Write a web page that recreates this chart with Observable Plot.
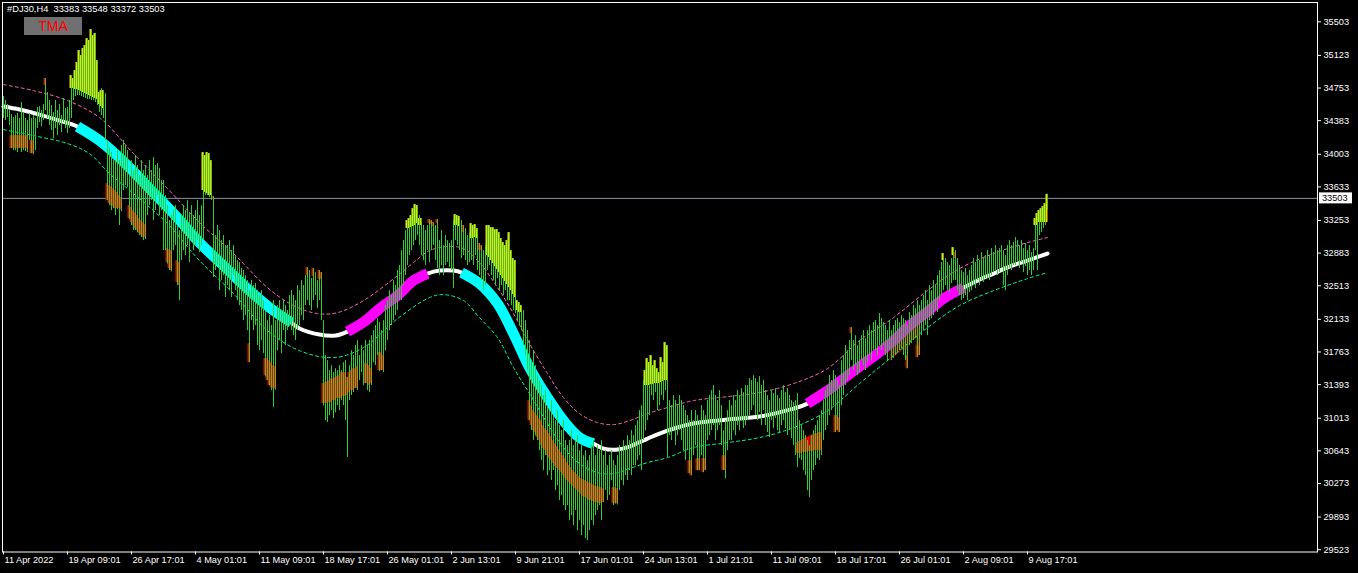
<!DOCTYPE html>
<html><head><meta charset="utf-8">
<script src="https://cdn.jsdelivr.net/npm/d3@7"></script>
<script src="https://cdn.jsdelivr.net/npm/@observablehq/plot@0.6"></script>
<style>
html,body{margin:0;padding:0;background:#000;}
#wrap{position:relative;width:1358px;height:573px;overflow:hidden;font-family:"Liberation Sans",Arial,sans-serif;}
#title{position:absolute;left:7px;top:4px;color:#fff;font-size:9.3px;line-height:11px;white-space:pre;}
#tma{position:absolute;left:24px;top:17px;width:58px;height:18px;background:#707070;color:#ff0000;font-size:14px;line-height:18px;text-align:center;}
</style></head><body>
<div id="wrap"><div id="chart"></div><div id="title">#DJ30,H4  33383 33548 33372 33503</div><div id="tma">TMA</div></div>
<script>
// ---- tick labels ----
const xTickIdx = [0,32,64,96,128,160,192,224,256,288,320,352,384,416,448,480,512];
const xTickLabels = ["11 Apr 2022","19 Apr 09:01","26 Apr 17:01","4 May 01:01","11 May 09:01","18 May 17:01","26 May 01:01","2 Jun 13:01","9 Jun 21:01","17 Jun 01:01","24 Jun 13:01","1 Jul 21:01","11 Jul 09:01","18 Jul 17:01","26 Jul 01:01","2 Aug 09:01","9 Aug 17:01"];
const yTickLabels = [35503,35123,34753,34383,34003,33633,33253,32883,32513,32133,31763,31393,31013,30643,30273,29893,29523];
const bidPrice = 33503;

// ---- H4 bars (high / low) ----
const barHigh = [
34656,34611,34566,34498,34452,34418,34441,34464,
34407,34588,34475,34407,34384,34464,34407,34441,
34407,34532,34543,34498,34566,34860,34702,34611,
34554,34475,34611,34498,34566,34441,34634,34520,
34532,34611,34894,34860,34951,35042,35178,35121,
35200,35234,35313,35291,35415,35347,35370,35064,
34702,34747,34724,34690,34158,34078,34022,33931,
33931,34044,33931,34101,34158,34101,34044,33761,
33931,33818,33988,33875,33761,33931,33818,33875,
33761,33931,33818,33965,33875,33897,33841,33705,
33705,33535,33421,33251,33308,33365,33421,33195,
33138,33308,33421,33365,33478,33342,33421,33308,
33365,33478,33308,33421,34022,33988,34022,34010,
33931,33523,33081,33195,33138,33025,33081,32968,
32968,33025,32911,32968,32855,32798,32776,32708,
32685,32628,32572,32458,32572,32515,32538,32458,
32402,32458,32345,32232,32118,32175,32062,32345,
32118,32288,32345,32232,32345,32288,32232,32402,
32458,32402,32345,32515,32458,32572,32515,32628,
32719,32685,32594,32708,32662,32572,32685,32662,
32118,31722,31665,31552,31608,31529,31574,31552,
31608,31552,31642,31665,31473,31608,31778,31722,
31835,31892,31722,31835,31778,31892,31835,31892,
31948,32005,32062,32141,32096,32005,32118,32288,
32345,32458,32402,32572,32515,32685,32742,32911,
33025,33138,33251,33274,33308,33387,33433,33421,
33308,33274,33195,33138,33195,33263,33251,33229,
33195,33263,33025,33138,32968,33081,33025,32991,
33025,33251,33319,33308,33297,33251,33195,33161,
33081,33115,33217,33195,33206,33161,32991,32968,
32911,32968,33195,33195,33172,33172,33149,33149,
33115,33047,33002,32968,33025,33115,32911,32821,
32798,32345,32322,32288,
32232,32118,32005,31892,31665,31778,31608,31495,
31439,31382,31269,31325,31155,31099,31212,31042,
30985,31099,30929,30872,30985,30759,30702,30759,
30872,30702,30759,30815,30645,30702,30589,30645,
30532,30589,30702,30759,30589,30702,30645,30759,
30589,30645,30475,30589,30645,30532,30475,30589,
30702,30645,30759,30702,30815,30759,30872,30815,
30929,30985,31099,31155,31439,31552,31688,31642,
31722,31608,31665,31574,31529,31699,31642,31869,
31835,31212,31155,31269,31212,31155,31269,31212,
31155,31099,31042,30985,31099,30985,31099,31042,
30985,31155,31099,31042,31212,31269,31325,31382,
31269,31212,31325,31155,30872,30985,31099,31212,
31155,31269,31212,31325,31269,31348,31303,31382,
31382,31461,31439,31495,31461,31416,31484,31382,
31439,31325,31269,31212,31325,31291,31348,31269,
31235,31325,31382,31303,31348,31269,31212,31189,
31212,31291,30985,30929,30872,30815,30759,30702,
30815,30872,30929,30985,31042,31099,31212,31325,
31382,31495,31439,31552,31495,31439,31382,31665,
31722,31835,31778,31892,32039,31892,31948,31835,
31892,31948,32005,31914,32005,32062,32005,32096,
32118,32062,32198,32141,32096,32062,32005,32118,
32005,32062,32118,32141,32096,32175,32141,32118,
32062,32209,32175,32288,32254,32345,32288,32345,
32402,32458,32345,32515,32458,32572,32515,32628,
32685,32776,32878,32821,32776,32742,32821,32945,
32911,32821,32742,32685,32662,32708,32628,32685,
32742,32821,32776,32855,32798,32889,32821,32855,
32911,32855,32934,32889,32968,32911,32934,32968,
32911,32855,32968,33025,32968,33002,33059,33025,
32968,33025,32934,32991,32911,32968,32889,32934,
33274,33331,33365,33387,33410,33444,33548
];
const barLow = [
34407,34384,34418,34328,34067,34044,34044,34022,
34067,34022,34044,34033,34022,34158,34010,33999,
34044,34294,34362,34316,34384,34498,34407,34328,
34271,34180,34294,34214,34328,34248,34362,34294,
34237,34294,34407,34611,34656,34668,34668,34656,
34645,34634,34622,34622,34611,34611,34588,34554,
34475,34441,34407,34158,33478,33421,33365,33387,
33308,33376,33195,33353,33591,33648,33625,33263,
33195,33138,33138,33115,33081,33059,33025,33036,
33308,33421,33478,33251,33365,33535,33308,33365,
32911,32911,32760,32685,32670,32911,32968,32515,
32345,32798,32911,32855,32968,32776,33025,32911,
32968,33025,32889,32968,33025,33535,33535,33512,
33478,32606,32685,32742,32458,32572,32628,32379,
32515,32458,32379,32628,32458,32345,32288,32232,
32118,32175,32005,31642,32118,32005,32062,31835,
31778,31892,31744,31480,31439,31382,31325,31133,
31330,31778,31892,31744,32005,31835,32005,32062,
32005,31948,31892,32005,32062,32175,32118,32288,
32345,32288,32232,32345,32402,32254,32345,32118,
31150,30985,30963,31042,31099,31008,31076,31155,
31099,31212,31155,30985,30566,31212,31269,31303,
31348,31325,31439,31529,31382,31405,31325,31303,
31382,31642,31608,31722,31540,31552,31530,31778,
31892,32005,32062,32118,32175,32232,32345,32345,
32515,32628,32742,32855,32911,32968,33025,33081,
32968,32855,32798,32742,32911,32776,32911,32968,
32798,32708,32628,32742,32628,32742,32776,32719,
32685,32481,33025,32968,32911,32821,32855,32798,
32742,32776,32798,32742,32855,32685,32628,32572,
32458,32515,32685,32742,32628,32572,32515,32594,
32458,32515,32402,32458,32345,32345,32288,32232,
32198,32118,32062,32005,
31835,31722,31552,30985,30872,30759,30815,30759,
30645,30532,30419,30589,30362,30419,30306,30419,
30192,30249,30079,30136,30022,29966,30022,29853,
29909,29796,29966,29739,29853,29683,29796,29648,
29626,29739,29853,29796,29909,29966,30022,29853,
30056,30192,30079,30136,30306,30022,30040,30030,
30192,30306,30249,30362,30306,30419,30362,30475,
30475,30532,30589,30419,30759,30872,30985,31042,
31269,31212,31303,31099,31155,31269,31212,31325,
30566,30815,30759,30872,30702,30815,30872,30759,
30645,30532,30645,30385,30362,30589,30702,30419,
30419,30589,30396,30419,30759,30815,30872,30929,
30759,30872,30929,30702,30419,30328,30645,30759,
30759,30872,30815,30929,30872,30985,30895,30929,
30985,31042,31099,31155,31042,30985,31076,30929,
31099,30929,30850,30793,30985,30895,31008,30872,
30850,30929,30985,30895,30815,30872,30782,30702,
30589,30453,30555,30532,30419,30362,30192,30113,
30306,30419,30475,30555,30532,30589,30759,30872,
30929,31042,31099,31155,30850,30872,30850,31155,
31269,31382,31439,31495,31665,31552,31608,31495,
31529,31665,31608,31552,31642,31722,31665,31778,
31778,31722,31835,31778,31835,31722,31665,31778,
31665,31688,31722,31756,31778,31801,31722,31665,
31574,31835,31858,31892,31914,31699,31722,31948,
32005,32062,31948,32118,32141,32175,32232,32209,
32345,32402,32458,32515,32458,32436,32538,32572,
32572,32458,32402,32345,32368,32402,32345,32436,
32458,32515,32481,32572,32515,32572,32549,32594,
32594,32572,32628,32662,32685,32628,32662,32708,
32515,32458,32628,32708,32685,32742,32742,32776,
32708,32776,32662,32730,32628,32685,32628,32685,
32911,32685,33081,33115,33161,33195,33372
];

// ---- histogram highlights: [bar, top, bottom] ----
const goldBars = [
[34,34894,34747],[35,34860,34747],[36,34951,34736],[37,35042,34736],[38,35178,34724],[39,35121,34713],[40,35200,34702],[41,35234,34690],[42,35313,34679],[43,35291,34668],[44,35415,34656],[45,35347,34645],[46,35370,34634],[47,35064,34622],[48,34702,34566],[49,34724,34543],[50,34724,34520],
[100,34022,33591],[101,33988,33569],[102,34022,33557],[103,34010,33535],[104,33931,33535],
[202,33251,33161],[203,33274,33161],[204,33308,33172],[205,33387,33183],[206,33433,33195],[207,33421,33217],[208,33274,33195],[209,33274,33195],
[226,33319,33195],[227,33308,33195],[228,33297,33183],
[234,33217,33047],[235,33195,33047],[236,33206,33059],[237,33161,33047],
[242,33195,32855],[243,33195,32832],[244,33172,32798],[245,33172,32764],[246,33149,32730],[247,33149,32696],[248,33115,32662],[249,33047,32628],[250,33002,32594],[251,32968,32560],[252,33025,32526],[253,33115,32492],[254,32911,32458],[255,32821,32413],[256,32798,32379],[257,32345,32232],[258,32322,32209],[259,32288,32209],
[321,31552,31382],[322,31688,31382],[323,31642,31382],[324,31722,31393],[325,31608,31393],[326,31665,31405],[327,31574,31405],[328,31529,31405],[329,31699,31416],[330,31642,31427],[331,31869,31439],[332,31835,31439],
[470,32878,32798],[475,32945,32855],
[516,33274,33195],[517,33331,33195],[518,33365,33229],[519,33387,33229],[520,33410,33229],[521,33444,33229],[522,33548,33229]
];
const redBars = [
[4,34214,34067],[5,34214,34067],[6,34214,34067],[7,34214,34067],[8,34214,34067],[9,34214,34067],[10,34214,34067],[11,34214,34067],[12,34214,34067],
[14,34158,34010],[15,34158,34010],[21,34860,34781],
[52,33671,33478],[53,33648,33444],[54,33637,33421],[55,33614,33410],[56,33591,33387],[57,33569,33387],[58,33535,33387],[59,33512,33376],
[63,33421,33274],[64,33399,33229],[65,33365,33195],[66,33342,33161],[67,33308,33138],[68,33274,33104],[69,33251,33081],[70,33229,33059],[71,33206,33059],
[82,32934,32776],[83,32923,32708],[84,32911,32685],[87,32798,32549],[88,32776,32515],
[105,33523,33489],[123,31858,31642],
[131,31688,31495],[132,31688,31439],[133,31665,31382],[134,31642,31359],[135,31608,31348],[136,31597,31348],
[152,32719,32628],[155,32708,32617],[158,32685,32583],[159,32662,32583],
[160,31405,31178],[161,31416,31178],[162,31427,31178],[163,31439,31189],[164,31461,31189],[165,31461,31212],[166,31473,31212],[167,31484,31235],[168,31495,31235],[169,31529,31235],[170,31529,31257],[171,31529,31257],[172,31473,31269],[173,31529,31303],[174,31552,31325],[175,31574,31325],[176,31574,31348],[177,31597,31348],
[181,31631,31405],[182,31631,31405],[183,31608,31382],[184,31574,31405],
[188,31756,31552],[189,31756,31552],[190,31722,31552],
[213,33263,33217],[214,33251,33206],[215,33229,33183],[217,33263,33217],[230,33195,33115],[238,32991,32911],[239,32968,32911],
[263,31212,30985],[264,31155,30929],[265,31099,30872],[266,31076,30850],[267,31042,30793],[268,31008,30759],[269,30985,30702],[270,30929,30668],[271,30895,30645],[272,30872,30589],[273,30838,30555],[274,30804,30532],[275,30759,30498],[276,30725,30464],[277,30691,30442],[278,30657,30419],[279,30623,30396],[280,30589,30362],[281,30555,30328],[282,30510,30306],[283,30475,30283],[284,30453,30260],[285,30419,30238],[286,30396,30215],[287,30374,30192],[288,30351,30170],[289,30328,30147],[290,30317,30124],[291,30306,30113],[292,30294,30102],[293,30283,30079],[294,30272,30079],[295,30260,30068],[296,30249,30056],[297,30238,30056],[298,30238,30045],[299,30226,30045],[300,30215,30056],
[305,30226,30045],[306,30226,30045],[307,30215,30045],
[343,30532,30385],[344,30532,30362],[347,30555,30419],[348,30555,30419],[350,30555,30396],[351,30555,30419],[360,30589,30419],[361,30589,30419],
[397,30736,30611],[398,30747,30611],[399,30759,30611],[400,30770,30623],[401,30782,30623],[402,30793,30623],[403,30804,30634],[404,30815,30634],[405,30827,30634],[406,30838,30645],[407,30838,30645],[408,30850,30645],[409,30850,30645],
[416,31042,30850],[417,31042,30872],[418,31019,30850],[424,32039,31971],
[452,31722,31574],[457,31835,31699],[458,31835,31722],[476,32889,32821]
];
const maroonBars = [
[444,31801,31665],[445,31835,31688],[446,31858,31710],[447,31892,31722],[448,31892,31744],[449,31914,31756],[450,31937,31778],[451,31948,31778],[452,31971,31778],[453,32005,31835],[454,32028,31858],[455,32062,31892],[456,32084,31914],[457,32096,31835],[458,32118,31835]
];

// ---- TMA centre line and bands ----
const tmaIdx = [0,8,18,28,37,48,61,73,86,98,111,123,133,144,148,158,166,172,181,188,197,205,212,218,225,229,238,247,255,263,272,280,288,295,300,307,313,322,332,345,362,378,395,402,412,420,428,437,445,453,462,470,480,488,495,503,512,522];
const tmaVal = [34543,34509,34452,34384,34316,34158,33897,33614,33308,33002,32719,32458,32266,32096,32028,31960,31949,31994,32118,32254,32402,32572,32651,32685,32685,32662,32538,32311,31971,31586,31246,30985,30793,30725,30668,30657,30691,30782,30872,30952,30997,31031,31121,31178,31325,31461,31597,31745,31892,32062,32221,32368,32492,32583,32651,32730,32798,32878];
const fallingRanges = [[37,144],[229,295]];
const risingRanges = [[172,212],[402,480]];
const upIdx = [0,15,32,48,65,82,98,115,132,145,157,167,180,197,205,213,222,230,238,247,255,263,272,280,288,297,305,313,322,332,345,362,378,395,412,428,445,462,478,495,512,522];
const upVal = [34792,34724,34611,34418,34010,33614,33229,32878,32492,32288,32198,32209,32345,32628,32776,32911,32957,32934,32776,32492,32198,31858,31518,31246,31065,30963,30940,30985,31065,31133,31212,31257,31303,31405,31575,31892,32152,32458,32708,32878,33002,33059];
const lowIdx = [0,15,32,43,53,65,82,98,115,132,148,165,180,197,213,220,230,238,247,255,263,272,280,288,297,305,313,322,332,345,362,378,395,412,428,445,462,478,495,512,522];
const lowVal = [34282,34214,34124,34010,33784,33557,33217,32798,32424,32005,31778,31699,31813,32141,32379,32413,32345,32152,31926,31586,31291,30952,30680,30498,30396,30385,30442,30510,30566,30680,30736,30793,30906,31099,31405,31722,32039,32288,32458,32594,32662];

// ---- build tables ----
const bars = barHigh.map((h, i) => ({i, hi: h, lo: barLow[i]}));
const tma = tmaIdx.map((x, k) => ({x, y: tmaVal[k]}));
const segs = (ranges) => ranges.flatMap(([a, b], s) => tma.filter(d => d.x >= a && d.x <= b).map(d => ({...d, s})));
const upper = upIdx.map((x, k) => ({x, y: upVal[k]}));
const lower = lowIdx.map((x, k) => ({x, y: lowVal[k]}));
const xLabels = xTickIdx.map((x, k) => ({x, t: xTickLabels[k]}));
const histo = (arr, fill) => Plot.rect(arr, {x1: d => d[0] - 0.5, x2: d => d[0] + 0.5, y1: d => d[1], y2: d => d[2], fill, dx: -0.5});

const W = 1358, H = 573, mR = 41;
const chart = Plot.plot({
  width: W, height: H,
  marginLeft: 2, marginRight: mR, marginTop: 2, marginBottom: 21.5,
  style: {background: "#000", color: "#fff", fontFamily: "Liberation Sans, Arial, sans-serif", fontSize: "9.2px"},
  x: {domain: [-0.5, 657], ticks: xTickIdx, tickFormat: () => "", tickSize: 3, label: null},
  y: {domain: [29497, 35722], axis: "right", ticks: yTickLabels, tickFormat: d => String(d), tickSize: 3, tickPadding: 3, label: null},
  marks: [
    Plot.ruleY([bidPrice], {stroke: "#8a94a0", strokeWidth: 1}),
    histo(goldBars, "#FFD700"),
    histo(redBars, "#FF0000"),
    histo(maroonBars, "#800000"),
    Plot.line(upper, {x: "x", y: "y", stroke: "#FF69B4", strokeWidth: 1, strokeDasharray: "3,3", curve: "catmull-rom"}),
    Plot.line(lower, {x: "x", y: "y", stroke: "#00FA9A", strokeWidth: 1, strokeDasharray: "3,3", curve: "catmull-rom"}),
    Plot.line(tma, {x: "x", y: "y", stroke: "#ffffff", strokeWidth: 4, curve: "catmull-rom"}),
    Plot.line(segs(fallingRanges), {x: "x", y: "y", z: "s", stroke: "#00FFFF", strokeWidth: 10.5, strokeLinecap: "butt", curve: "catmull-rom"}),
    Plot.line(segs(risingRanges), {x: "x", y: "y", z: "s", stroke: "#FF00FF", strokeWidth: 10.5, strokeLinecap: "butt", curve: "catmull-rom"}),
    Plot.ruleX(bars, {x: "i", y1: "lo", y2: "hi", stroke: "#32CD32", strokeWidth: 1}),
    Plot.frame({stroke: "#ffffff"}),
    Plot.text(xLabels, {x: "x", text: "t", frameAnchor: "bottom", dy: 11, dx: 1, textAnchor: "start", fill: "#ffffff"})
  ]
});
document.getElementById("chart").append(chart);

// current price label on the right axis
const yb = chart.scale("y").apply(bidPrice);
const ns = "http://www.w3.org/2000/svg";
const g = document.createElementNS(ns, "g");
const r = document.createElementNS(ns, "rect");
r.setAttribute("x", W - mR + 2); r.setAttribute("y", yb - 5.5);
r.setAttribute("width", 33); r.setAttribute("height", 11); r.setAttribute("fill", "#ffffff");
const t = document.createElementNS(ns, "text");
t.setAttribute("x", W - mR + 5); t.setAttribute("y", yb + 3.5);
t.setAttribute("text-anchor", "start");
t.setAttribute("fill", "#000"); t.setAttribute("font-size", "9.2px");
t.textContent = String(bidPrice);
g.append(r, t); chart.append(g);
</script>
</body></html>
